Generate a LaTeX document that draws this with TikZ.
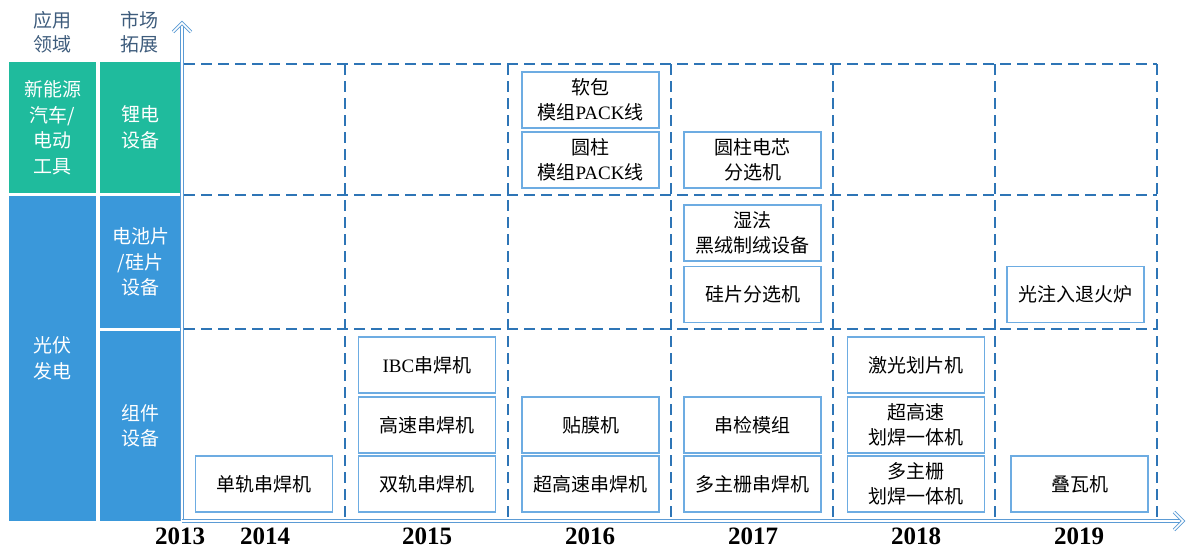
\documentclass[tikz,border=0pt]{standalone}
\usepackage{fontspec}
\setmainfont{Liberation Serif}
\newfontfamily\cjk{Noto Sans CJK SC}
\usetikzlibrary{calc}
\definecolor{tealbox}{RGB}{31,187,157}
\definecolor{bluebox}{RGB}{58,152,218}
\definecolor{gridline}{RGB}{46,117,182}
\definecolor{itemline}{RGB}{109,172,226}
\definecolor{axisline}{RGB}{91,155,213}
\definecolor{headtext}{RGB}{62,92,124}
\newcommand\entext[1]{{\rmfamily #1}}
\tikzset{
  item/.style={draw=itemline, line width=1.3pt, fill=white, minimum width=137pt,
    minimum height=56pt, inner sep=0pt, align=center,
    font=\cjk\fontsize{19}{25}\selectfont},
  field/.style={inner sep=0pt, align=center, text=white,
    font=\cjk\fontsize{19}{25.5}\selectfont},
  head/.style={align=center, text=headtext, font=\cjk\fontsize{19}{24}\selectfont},
  year/.style={font=\bfseries\fontsize{25}{25}\selectfont},
  grid line/.style={gridline, line width=1.3pt, dash pattern=on 11pt off 6pt},
  axis/.style={axisline, line width=0.9pt, double=white, double distance=1.6pt,
    line join=miter},
}
\begin{document}
\begin{tikzpicture}[x=1pt,y=-1pt]
\useasboundingbox (0,0) rectangle (1187,549);
% dashed year/field grid
\foreach \y in {64,195,329}
  \draw[grid line] (184,\y) -- (1157,\y);
\foreach \x in {345,508,671,833,995,1157}
  \draw[grid line] (\x,64) -- (\x,521);
% headers
\node[head] (apphead) at (52,32) {应用\\领域};
\node[head] (mkthead) at (139,32) {市场\\拓展};
% application fields
\node[field, fill=tealbox, minimum width=87pt, minimum height=131pt] (ev) at (52.5,127.5) {新能源\\汽车/\\电动\\工具};
\node[field, fill=bluebox, minimum width=87pt, minimum height=325pt] (pv) at (52.5,358.5) {光伏\\发电};
\node[field, fill=tealbox, minimum width=81pt, minimum height=131pt] (li) at (140.5,127.5) {锂电\\设备};
\node[field, fill=bluebox, minimum width=81pt, minimum height=132pt] (cell) at (140.5,262) {电池片\\/硅片\\设备};
\node[field, fill=bluebox, minimum width=81pt, minimum height=190pt] (mod) at (140.5,426) {组件\\设备};
% products
\node[item] (srail) at (264,484) {单轨串焊机};
\node[item] (drail) at (427,484) {双轨串焊机};
\node[item] (hspeed) at (427,425) {高速串焊机};
\node[item] (ibc) at (427,365) {\entext{IBC}串焊机};
\node[item] (uhspeed) at (590.5,484) {超高速串焊机};
\node[item] (film) at (590.5,425) {贴膜机};
\node[item] (cylpack) at (590.5,160) {圆柱\\模组\entext{PACK}线};
\node[item] (softpack) at (590.5,100) {软包\\模组\entext{PACK}线};
\node[item] (mbb) at (752.5,484) {多主栅串焊机};
\node[item] (stest) at (752.5,425) {串检模组};
\node[item] (wsort) at (752.5,294.5) {硅片分选机};
\node[item] (wet) at (752.5,233) {湿法\\黑绒制绒设备};
\node[item] (cylsort) at (752.5,160) {圆柱电芯\\分选机};
\node[item] (mbbcut) at (916,484) {多主栅\\划焊一体机};
\node[item] (uhcut) at (916,425) {超高速\\划焊一体机};
\node[item] (laser) at (916,365) {激光划片机};
\node[item] (shingle) at (1079.5,484) {叠瓦机};
\node[item] (anneal) at (1075.5,294.5) {光注入退火炉};
% axes
\coordinate (o) at (182,521);
\coordinate (ytip) at (182,23);
\coordinate (xtip) at (1183,521);
\draw[axis] (o) -- (ytip);
\draw[axis] (o) -- (xtip);
\draw[axis] ($(ytip)+(-9,9)$) -- (ytip) -- ($(ytip)+(9,9)$);
\draw[axis] ($(xtip)+(-9,-9)$) -- (xtip) -- ($(xtip)+(-9,9)$);
% years
\node[year] (y2013) at (180,536) {2013};
\node[year] (y2014) at (265,536) {2014};
\node[year] (y2015) at (427,536) {2015};
\node[year] (y2016) at (590,536) {2016};
\node[year] (y2017) at (753,536) {2017};
\node[year] (y2018) at (916,536) {2018};
\node[year] (y2019) at (1079,536) {2019};
\end{tikzpicture}
\end{document}
